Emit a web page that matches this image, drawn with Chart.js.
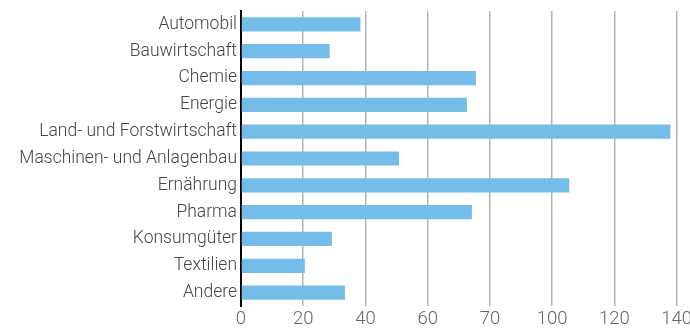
<!DOCTYPE html>
<html>
<head>
<meta charset="utf-8">
<script src="https://cdn.jsdelivr.net/npm/chart.js@4"></script>
<style>
  html, body { margin: 0; padding: 0; background: #fff; overflow: hidden; }
  #wrap { width: 694px; height: 332px; position: relative; }
</style>
</head>
<body>
<div id="wrap"><canvas id="chart"></canvas></div>
<script>
const categories = [
  'Automobil', 'Bauwirtschaft', 'Chemie', 'Energie', 'Land- und Forstwirtschaft',
  'Maschinen- und Anlagenbau', 'Ernährung', 'Pharma', 'Konsumgüter', 'Textilien', 'Andere'
];
const values = [38.4, 28.5, 75.5, 72.6, 138, 50.8, 105.5, 74.2, 29.2, 20.5, 33.4];
// tick labels as printed in the original (note the "70" at the 80 gridline)
const tickLabels = ['0', '20', '40', '60', '70', '100', '120', '140'];

const fontFamily = 'Roboto, "Liberation Sans", sans-serif';

const ctx = document.getElementById('chart').getContext('2d');
new Chart(ctx, {
  type: 'bar',
  data: {
    labels: categories,
    datasets: [{
      data: values,
      backgroundColor: '#74bde9',
      borderWidth: 0,
      categoryPercentage: 1,
      barPercentage: 0.53
    }]
  },
  options: {
    indexAxis: 'y',
    responsive: true,
    maintainAspectRatio: false,
    animation: false,
    layout: { padding: { top: 11, left: 0, right: 0, bottom: 0 } },
    plugins: {
      legend: { display: false },
      tooltip: { enabled: false }
    },
    scales: {
      x: {
        min: 0,
        max: 140,
        ticks: {
          stepSize: 20,
          color: '#666',
          padding: 2,
          font: { family: fontFamily, size: 18.5, weight: 300 },
          callback: (v, i) => tickLabels[i]
        },
        grid: {
          color: '#b3b3b3',
          lineWidth: 1.5,
          drawTicks: false
        },
        border: { display: false },
        afterFit: s => { s.height = 26; }
      },
      y: {
        ticks: {
          color: '#444',
          padding: 4,
          font: { family: fontFamily, size: 17.5, weight: 300 }
        },
        grid: { display: false, drawTicks: false },
        border: { display: true, color: '#000', width: 2 },
        afterFit: s => {
          s.width = 241;
          s.paddingTop = 0;
          s.paddingBottom = 0;
        }
      }
    }
  }
});
</script>
</body>
</html>
